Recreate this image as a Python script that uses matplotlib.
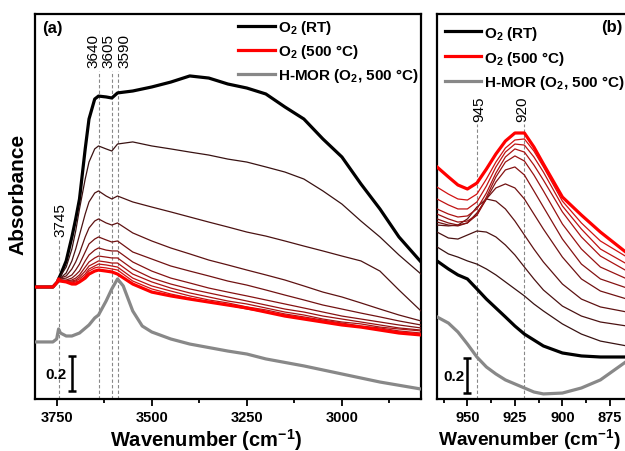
import numpy as np
import matplotlib
matplotlib.use('Agg')
import matplotlib.pyplot as plt

plt.rcParams['font.family'] = ['Liberation Sans', 'DejaVu Sans']
plt.rcParams['font.weight'] = 'bold'
plt.rcParams['mathtext.fontset'] = 'custom'
plt.rcParams['mathtext.rm'] = 'Liberation Sans:bold'
plt.rcParams['mathtext.bf'] = 'Liberation Sans:bold'
plt.rcParams['mathtext.it'] = 'Liberation Sans:bold'
plt.rcParams['mathtext.default'] = 'bf'

# ---- panel (a): OH region ----
wn_a = [3807, 3760, 3748, 3745, 3740, 3725, 3710, 3700, 3690, 3675, 3665, 3650, 3640, 3620, 3605, 3590,
        3550, 3500, 3450, 3400, 3350, 3300, 3250, 3200, 3150, 3100, 3050, 3000, 2950, 2900, 2850, 2792]
rt_a = [0.640, 0.640, 0.669, 0.686, 0.709, 0.789, 0.926, 1.029, 1.143, 1.429, 1.600, 1.714, 1.731, 1.726, 1.720, 1.749,
        1.760, 1.783, 1.811, 1.846, 1.834, 1.800, 1.777, 1.743, 1.669, 1.600, 1.486, 1.383, 1.229, 1.086, 0.926, 0.783]
mid_a = [
    [0.640, 0.640, 0.669, 0.686, 0.703, 0.754, 0.857, 0.960, 1.086, 1.257, 1.354, 1.429, 1.446, 1.429, 1.417, 1.457,
     1.469, 1.446, 1.429, 1.411, 1.394, 1.371, 1.354, 1.326, 1.297, 1.257, 1.189, 1.114, 1.017, 0.926, 0.823, 0.714],
    [0.640, 0.640, 0.669, 0.686, 0.691, 0.720, 0.789, 0.857, 0.937, 1.057, 1.126, 1.177, 1.189, 1.160, 1.143, 1.160,
     1.126, 1.097, 1.069, 1.040, 1.011, 0.983, 0.954, 0.931, 0.903, 0.874, 0.846, 0.817, 0.789, 0.731, 0.623, 0.503],
    [0.640, 0.640, 0.669, 0.686, 0.691, 0.703, 0.743, 0.783, 0.834, 0.926, 0.977, 1.017, 1.029, 1.006, 0.994, 1.006,
     0.949, 0.903, 0.863, 0.829, 0.794, 0.766, 0.737, 0.709, 0.680, 0.646, 0.611, 0.583, 0.549, 0.514, 0.480, 0.446],
    [0.640, 0.640, 0.669, 0.686, 0.686, 0.691, 0.709, 0.737, 0.771, 0.840, 0.886, 0.914, 0.926, 0.909, 0.897, 0.903,
     0.840, 0.800, 0.760, 0.731, 0.703, 0.674, 0.651, 0.623, 0.594, 0.566, 0.537, 0.514, 0.491, 0.469, 0.446, 0.423],
    [0.640, 0.640, 0.669, 0.686, 0.680, 0.680, 0.691, 0.709, 0.731, 0.789, 0.823, 0.851, 0.863, 0.851, 0.846, 0.846,
     0.783, 0.731, 0.691, 0.663, 0.634, 0.611, 0.589, 0.566, 0.543, 0.520, 0.497, 0.474, 0.457, 0.440, 0.423, 0.406],
    [0.640, 0.640, 0.669, 0.686, 0.680, 0.674, 0.680, 0.691, 0.709, 0.754, 0.783, 0.806, 0.817, 0.811, 0.806, 0.806,
     0.743, 0.691, 0.657, 0.629, 0.606, 0.583, 0.560, 0.537, 0.514, 0.497, 0.474, 0.457, 0.440, 0.423, 0.406, 0.394],
    [0.640, 0.640, 0.669, 0.686, 0.674, 0.674, 0.674, 0.680, 0.697, 0.731, 0.760, 0.777, 0.789, 0.783, 0.777, 0.777,
     0.714, 0.669, 0.634, 0.606, 0.583, 0.560, 0.543, 0.520, 0.497, 0.480, 0.457, 0.440, 0.429, 0.411, 0.400, 0.389],
    [0.640, 0.640, 0.669, 0.686, 0.674, 0.669, 0.669, 0.674, 0.686, 0.714, 0.743, 0.760, 0.771, 0.766, 0.760, 0.754,
     0.691, 0.646, 0.617, 0.589, 0.566, 0.549, 0.526, 0.509, 0.486, 0.469, 0.451, 0.434, 0.417, 0.406, 0.389, 0.377],
    [0.640, 0.640, 0.669, 0.686, 0.674, 0.669, 0.663, 0.669, 0.674, 0.703, 0.731, 0.749, 0.754, 0.749, 0.743, 0.737,
     0.674, 0.629, 0.600, 0.577, 0.554, 0.537, 0.514, 0.497, 0.480, 0.463, 0.446, 0.429, 0.411, 0.400, 0.383, 0.371],
]
hot_a = [0.640, 0.640, 0.669, 0.686, 0.674, 0.669, 0.657, 0.657, 0.669, 0.691, 0.714, 0.731, 0.737, 0.731, 0.726, 0.714,
         0.657, 0.611, 0.589, 0.571, 0.554, 0.537, 0.520, 0.497, 0.474, 0.457, 0.440, 0.423, 0.411, 0.394, 0.377, 0.366]
wn_hmor_a = [3807, 3760, 3750, 3745, 3740, 3725, 3710, 3690, 3665, 3650, 3640, 3620, 3605, 3590, 3575, 3550,
             3525, 3500, 3450, 3400, 3300, 3250, 3200, 3100, 3000, 2900, 2792]
hmor_a = [0.326, 0.326, 0.343, 0.400, 0.377, 0.360, 0.360, 0.377, 0.423, 0.463, 0.480, 0.560, 0.629, 0.686, 0.646, 0.503,
          0.417, 0.383, 0.343, 0.314, 0.274, 0.257, 0.229, 0.189, 0.143, 0.097, 0.057]

# ---- panel (b): framework region ----
wn_b = [966, 960, 955, 950, 945, 940, 935, 930, 925, 920, 915, 910, 900, 890, 880, 866]
rt_b = [0.789, 0.743, 0.709, 0.686, 0.629, 0.571, 0.520, 0.469, 0.417, 0.371, 0.337, 0.303, 0.263, 0.246, 0.240, 0.240]
mid_b = [
    [0.869, 0.829, 0.811, 0.789, 0.771, 0.743, 0.709, 0.669, 0.629, 0.589, 0.543, 0.503, 0.429, 0.371, 0.331, 0.303],
    [0.954, 0.920, 0.914, 0.937, 0.960, 0.954, 0.926, 0.880, 0.823, 0.754, 0.686, 0.623, 0.531, 0.474, 0.440, 0.417],
    [0.994, 0.989, 0.994, 1.029, 1.097, 1.143, 1.131, 1.086, 1.017, 0.937, 0.857, 0.783, 0.657, 0.571, 0.526, 0.497],
    [1.011, 0.994, 0.989, 1.006, 1.063, 1.143, 1.206, 1.229, 1.206, 1.143, 1.057, 0.971, 0.811, 0.686, 0.617, 0.571],
    [1.029, 1.006, 0.994, 1.006, 1.051, 1.143, 1.240, 1.309, 1.326, 1.280, 1.189, 1.097, 0.914, 0.771, 0.686, 0.634],
    [1.057, 1.029, 1.011, 1.017, 1.051, 1.154, 1.269, 1.354, 1.389, 1.360, 1.280, 1.189, 1.000, 0.857, 0.754, 0.686],
    [1.086, 1.057, 1.040, 1.046, 1.086, 1.177, 1.291, 1.383, 1.429, 1.411, 1.337, 1.251, 1.069, 0.926, 0.817, 0.731],
    [1.143, 1.109, 1.086, 1.086, 1.126, 1.217, 1.326, 1.411, 1.457, 1.451, 1.383, 1.297, 1.103, 0.971, 0.857, 0.771],
    [1.211, 1.171, 1.143, 1.137, 1.171, 1.257, 1.354, 1.434, 1.480, 1.486, 1.417, 1.326, 1.131, 1.006, 0.903, 0.811],
]
hot_b = [1.326, 1.269, 1.223, 1.200, 1.234, 1.314, 1.400, 1.474, 1.520, 1.520, 1.440, 1.343, 1.154, 1.051, 0.954, 0.834]
hmor_b = [0.469, 0.434, 0.383, 0.314, 0.240, 0.183, 0.143, 0.109, 0.086, 0.063, 0.040, 0.029, 0.034, 0.063, 0.109, 0.217]

labels = [r'O$_2$ (RT)', r'O$_2$ (500 °C)', r'H-MOR (O$_2$, 500 °C)']
bands_a = [3745, 3640, 3605, 3590]
bands_b = [945, 920]

n_mid = len(mid_a)
mid_colors = [(0.22 + 0.6 * i / (n_mid - 1), 0.07, 0.07) for i in range(n_mid)]

fig = plt.figure(figsize=(6.25, 4.52), dpi=100)
ax_a = fig.add_axes([35 / 625, 52 / 452, 386 / 625, 385 / 452])
ax_b = fig.add_axes([437 / 625, 52 / 452, 190 / 625, 385 / 452])


def draw(ax, wn, rt, mid, hot, wn_h, hm):
    ax.plot(wn_h, hm, color='#888888', lw=2.3, label=labels[2], zorder=3)
    ax.plot(wn, rt, color='black', lw=2.3, label=labels[0], zorder=4)
    for c, m in zip(mid_colors, mid):
        ax.plot(wn, m, color=c, lw=0.9, zorder=4)
    ax.plot(wn, hot, color='#ff0000', lw=2.3, label=labels[1], zorder=5)
    ax.set_ylim(0, 2.2)
    ax.set_yticks([])
    for s in ax.spines.values():
        s.set_linewidth(1.6)
    ax.tick_params(axis='x', which='major', direction='out', length=5, width=1.3, labelsize=10.5, pad=3)
    ax.tick_params(axis='x', which='minor', direction='out', length=3, width=1.3)


draw(ax_a, wn_a, rt_a, mid_a, hot_a, wn_hmor_a, hmor_a)
draw(ax_b, wn_b, rt_b, mid_b, hot_b, wn_b, hmor_b)

ax_a.set_xlim(3807, 2792)
ax_a.set_xticks([3750, 3500, 3250, 3000])
ax_a.set_xticks([3625, 3375, 3125, 2875], minor=True)
ax_b.set_xlim(966, 866)
ax_b.set_xticks([950, 925, 900, 875])
ax_b.set_xticks([962.5, 937.5, 912.5, 887.5], minor=True)

# dashed band markers
dash = dict(color='#888888', lw=0.8, ls=(0, (3, 2)), zorder=2)
tops_a = [0.914, 1.874, 1.874, 1.874]
for b, t in zip(bands_a, tops_a):
    ax_a.plot([b, b], [0, t], **dash)
ax_a.text(3741, 0.93, '3745', rotation=90, ha='center', va='bottom', fontsize=11, fontweight='normal')
for b, xt in zip(bands_a[1:], [3654, 3615, 3573]):
    ax_a.text(xt, 1.895, str(b), rotation=90, ha='center', va='bottom', fontsize=11, fontweight='normal')
for b, xt in zip(bands_b, [943.7, 921.2]):
    ax_b.plot([b, b], [0, 1.571], **dash)
    ax_b.text(xt, 1.59, str(b), rotation=90, ha='center', va='bottom', fontsize=11, fontweight='normal')

# scale bars
ax_a.errorbar([3710], [0.146], yerr=[0.1], color='black', lw=1.8, capsize=3, capthick=1.8, zorder=6)
ax_a.text(3723, 0.143, '0.2', ha='right', va='center', fontsize=11)
ax_b.errorbar([950], [0.134], yerr=[0.1], color='black', lw=1.8, capsize=3, capthick=1.8, zorder=6)
ax_b.text(951.6, 0.131, '0.2', ha='right', va='center', fontsize=11)

ax_a.text(0.018, 0.964, '(a)', transform=ax_a.transAxes, ha='left', va='center', fontsize=12)
ax_b.text(0.975, 0.967, '(b)', transform=ax_b.transAxes, ha='right', va='center', fontsize=12)

leg_kw = dict(loc='upper left', frameon=False, fontsize=11, handlelength=2.4, handletextpad=0.2,
              borderpad=0, borderaxespad=0)
order = [1, 2, 0]
h, l = ax_a.get_legend_handles_labels()
ax_a.legend([h[i] for i in order], [l[i] for i in order], bbox_to_anchor=(0.526, 0.99),
            labelspacing=0.4, **leg_kw)
h, l = ax_b.get_legend_handles_labels()
ax_b.legend([h[i] for i in order], [l[i] for i in order], bbox_to_anchor=(0.04, 0.975),
            labelspacing=0.45, **leg_kw)

fig.text(18 / 625, 1 - 194 / 452, 'Absorbance', rotation=90, ha='center', va='center', fontsize=15)
fig.text(206 / 625, 1 - 440 / 452, r'Wavenumber (cm$^{-1}$)', ha='center', va='center', fontsize=14.5)
fig.text(529 / 625, 1 - 440 / 452, r'Wavenumber (cm$^{-1}$)', ha='center', va='center', fontsize=13.8)

fig.savefig('out.png', dpi=100)
